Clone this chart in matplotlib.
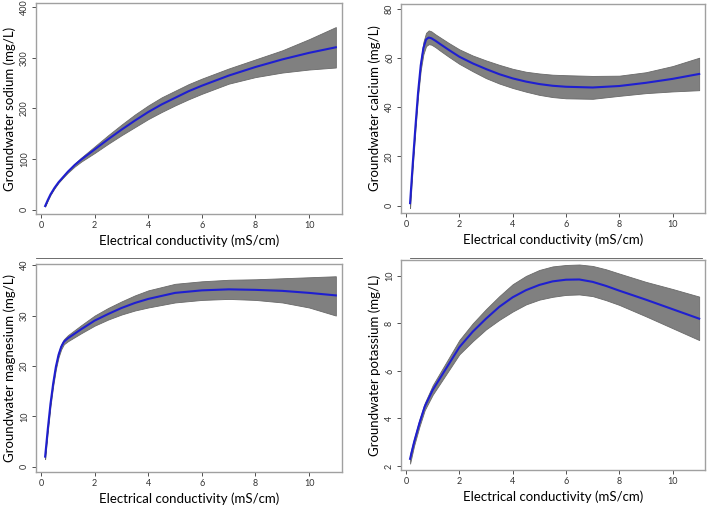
import numpy as np
import matplotlib
matplotlib.use('Agg')
import matplotlib.pyplot as plt
from matplotlib.lines import Line2D

plt.rcParams['font.family'] = ['Lato', 'DejaVu Sans']

# fitted curves: x, fit, lower CI, upper CI
na_x = [0.15, 0.25, 0.35, 0.5, 0.65, 0.8, 1.0, 1.25, 1.5, 2, 2.5, 3, 3.5, 4, 4.5, 5, 5.5, 6, 7, 8, 9, 10, 11]
na_fit = [7, 19, 30, 43, 54, 63, 75, 88, 99, 119, 139, 158, 176, 193, 208, 221, 234, 245, 265, 282, 297, 310, 321]
na_lo = [6, 18, 29, 42, 53, 62, 73, 85, 95, 112, 130, 147, 163, 179, 193, 206, 218, 229, 249, 262, 271, 277, 281]
na_hi = [8, 20, 31, 44, 55, 64, 77, 91, 103, 125, 147, 168, 188, 206, 222, 235, 248, 259, 279, 297, 315, 337, 361]

ca_x = [0.15, 0.25, 0.35, 0.45, 0.55, 0.65, 0.75, 0.85, 0.95, 1.1, 1.3, 1.6, 2, 2.5, 3, 3.5, 4, 4.5, 5, 5.5, 6, 7, 8, 9, 10, 11]
ca_fit = [1, 17, 32, 46, 57, 64, 67.5, 68.3, 68, 67, 65.5, 63.3, 60.5, 57.8, 55.5, 53.4, 51.7, 50.4, 49.4, 48.7, 48.3, 48, 48.6, 49.9, 51.5, 53.5]
ca_lo = [-1, 15.5, 30.5, 44.5, 55, 61.5, 64.8, 65.6, 65.4, 64.4, 62.8, 60.5, 57.6, 54.6, 51.8, 49.6, 47.8, 46.3, 45.0, 44.1, 43.6, 43.4, 44.6, 45.7, 46.4, 46.9]
ca_hi = [3, 18.5, 33.5, 47.5, 59, 66.5, 70.2, 71.2, 70.8, 69.6, 68.2, 66.1, 63.5, 61, 59, 57.2, 55.6, 54.4, 53.7, 53.2, 53, 52.7, 52.8, 54.2, 56.7, 60.1]

mg_x = [0.15, 0.25, 0.35, 0.45, 0.55, 0.65, 0.75, 0.85, 1.0, 1.25, 1.5, 2, 2.5, 3, 3.5, 4, 5, 6, 7, 8, 9, 10, 11]
mg_fit = [2, 7.5, 12.5, 16.5, 19.8, 22.2, 23.8, 24.8, 25.5, 26.4, 27.3, 29, 30.3, 31.5, 32.5, 33.3, 34.5, 35, 35.2, 35.1, 34.9, 34.5, 34]
mg_lo = [1.5, 7, 12, 16, 19.3, 21.7, 23.3, 24.3, 24.9, 25.7, 26.5, 28, 29.2, 30.2, 31, 31.6, 32.6, 33.1, 33.3, 33.1, 32.6, 31.6, 30]
mg_hi = [2.5, 8, 13, 17, 20.3, 22.7, 24.3, 25.3, 26.1, 27.1, 28.1, 30, 31.5, 32.8, 34, 35, 36.3, 36.8, 37.1, 37.2, 37.4, 37.6, 37.8]

k_x = [0.15, 0.3, 0.5, 0.7, 1.0, 1.5, 2, 2.5, 3, 3.5, 4, 4.5, 5, 5.5, 6, 6.5, 7, 7.5, 8, 9, 10, 11]
k_fit = [2.3, 3.0, 3.8, 4.5, 5.2, 6.1, 7.0, 7.65, 8.2, 8.7, 9.1, 9.4, 9.62, 9.77, 9.84, 9.85, 9.75, 9.58, 9.38, 9.0, 8.6, 8.2]
k_lo = [2.1, 2.85, 3.65, 4.35, 5.0, 5.85, 6.7, 7.25, 7.75, 8.15, 8.5, 8.8, 9.0, 9.12, 9.2, 9.22, 9.15, 8.98, 8.78, 8.3, 7.8, 7.3]
k_hi = [2.5, 3.15, 3.95, 4.65, 5.4, 6.35, 7.3, 8.0, 8.6, 9.15, 9.65, 10.0, 10.25, 10.4, 10.46, 10.48, 10.42, 10.28, 10.1, 9.75, 9.45, 9.13]

panels = [
    ("Groundwater sodium (mg/L)", na_x, na_fit, na_lo, na_hi, (-8.5, 408.5), [0, 100, 200, 300, 400],
     [0.0508, 0.579, 0.4312, 0.415]),
    ("Groundwater calcium (mg/L)", ca_x, ca_fit, ca_lo, ca_hi, (-3, 81.9), [0, 20, 40, 60, 80],
     [0.5656, 0.5807, 0.4288, 0.4113]),
    ("Groundwater magnesium (mg/L)", mg_x, mg_fit, mg_lo, mg_hi, (-1.05, 40.2), [0, 10, 20, 30, 40],
     [0.0508, 0.0709, 0.4312, 0.4091]),
    ("Groundwater potassium (mg/L)", k_x, k_fit, k_lo, k_hi, (1.83, 10.67), [2, 4, 6, 8, 10],
     [0.5656, 0.0748, 0.4288, 0.4134]),
]

fig = plt.figure(figsize=(7.09, 5.08), dpi=100)

for label, x, fit, lo, hi, ylim, yticks, rect in panels:
    ax = fig.add_axes(rect)
    ax.fill_between(x, lo, hi, color='#808080', edgecolor='#6a6a6a', linewidth=0.6)
    ax.plot(x, fit, color='#1f1fd0', linewidth=1.5)
    ax.set_xlim(-0.19, 11.22)
    ax.set_ylim(*ylim)
    ax.set_xticks([0, 2, 4, 6, 8, 10])
    ax.set_yticks(yticks)
    for lbl in ax.get_yticklabels():
        lbl.set_rotation(90)
        lbl.set_va('center')
    ax.tick_params(labelsize=6.5, colors='#333333', length=3, width=0.6, pad=2)
    for s in ax.spines.values():
        s.set_color('#a0a0a0')
        s.set_linewidth(1.0)
    ax.set_xlabel("Electrical conductivity (mS/cm)", fontsize=9.5, labelpad=3)
    ax.set_ylabel(label, fontsize=9.5, labelpad=3)

# thin separator lines under the top row
fig.add_artist(Line2D([36 / 709, 342 / 709], [1 - 258 / 508] * 2, color='#555555', linewidth=0.6))
fig.add_artist(Line2D([410 / 709, 702 / 709], [1 - 258 / 508] * 2, color='#555555', linewidth=0.6))

fig.savefig("out.png", dpi=100)
